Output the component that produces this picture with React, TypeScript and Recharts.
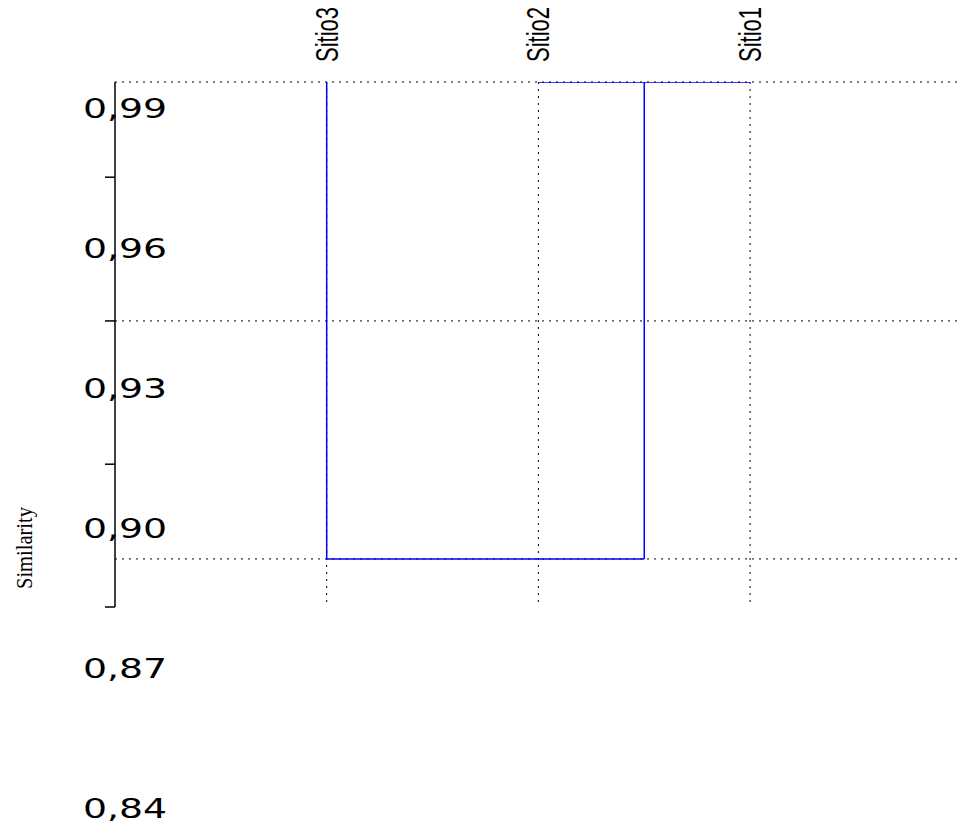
import React from "react";
import { LineChart, Line, XAxis, YAxis, ReferenceLine } from "recharts";

// Leaves of the dendrogram (left to right)
const leafNames = ["Sitio3", "Sitio2", "Sitio1"];
const leafPositions = [1, 2, 3];
const leafSimilarity = 0.996;

// Merges: child A, child B, similarity level of the join
const mergeIds = ["C1", "C2"];
const mergeChildA = ["Sitio2", "C1"];
const mergeChildB = ["Sitio1", "Sitio3"];
const mergeSimilarity = [0.996, 0.8938];

// Axis ticks
const labelTicks = [0.99, 0.96, 0.93, 0.9, 0.87, 0.84];
const markTicks = [0.9756, 0.9448, 0.9141, 0.8835];
const gridLevels = [0.996, 0.9448, 0.8938];
const simDomain = [0.8835, 0.996];
const xDomain = [0, 3.982];

type Pt = { x: number; y: number };

function buildSegments(): Pt[][] {
  const nodes: Record<string, Pt> = {};
  leafNames.forEach((n, i) => {
    nodes[n] = { x: leafPositions[i], y: leafSimilarity };
  });
  const segs: Pt[][] = [];
  mergeIds.forEach((id, i) => {
    const a = nodes[mergeChildA[i]];
    const b = nodes[mergeChildB[i]];
    const lvl = mergeSimilarity[i];
    if (a.y !== lvl) segs.push([{ x: a.x, y: a.y }, { x: a.x, y: lvl }]);
    if (b.y !== lvl) segs.push([{ x: b.x, y: b.y }, { x: b.x, y: lvl }]);
    segs.push([{ x: Math.min(a.x, b.x), y: lvl }, { x: Math.max(a.x, b.x), y: lvl }]);
    nodes[id] = { x: (a.x + b.x) / 2, y: lvl };
  });
  return segs;
}

const segments = buildSegments();

const YLabelTick = (props: any) => {
  const { y, payload } = props;
  const txt = Number(payload.value).toFixed(2).replace(".", ",");
  return (
    <text
      transform={`translate(83, ${y + 8}) scale(1.4,1)`}
      fontFamily="DejaVu Sans"
      fontSize={27}
      fill="#000"
    >
      {txt}
    </text>
  );
};

const XLabelTick = (props: any) => {
  const { x, payload } = props;
  const idx = leafPositions.indexOf(payload.value);
  const name = idx >= 0 ? leafNames[idx] : "";
  return (
    <text
      transform={`translate(${x + 11}, 62) scale(1.4,1) rotate(-90)`}
      fontFamily="Liberation Sans"
      fontSize={22}
      fill="#000"
    >
      {name}
    </text>
  );
};

const EmptyTick = () => <g />;

export default function App() {
  return (
    <div style={{ position: "absolute", left: 0, top: 0, width: 958, height: 825 }}>
      <LineChart
        width={958}
        height={825}
        margin={{ top: 0, right: 0, bottom: 218, left: 0 }}
        style={{ background: "#fff" }}
      >
        <XAxis
          type="number"
          dataKey="x"
          orientation="top"
          height={82}
          domain={xDomain}
          ticks={leafPositions}
          interval={0}
          axisLine={false}
          tickLine={false}
          tick={XLabelTick}
          allowDataOverflow
        />
        <YAxis
          yAxisId="marks"
          type="number"
          orientation="left"
          width={114}
          domain={simDomain}
          ticks={markTicks}
          interval={0}
          tickSize={10}
          tickLine={{ stroke: "#000", strokeWidth: 1.5 }}
          axisLine={{ stroke: "#000", strokeWidth: 1.5 }}
          tick={EmptyTick}
          allowDataOverflow
          label={{
            value: "Similarity",
            content: () => (
              <text
                transform="translate(32,548) scale(1.1,1) rotate(-90)"
                textAnchor="middle"
                fontFamily="Liberation Serif"
                fontSize={20.5}
                fill="#000"
              >
                Similarity
              </text>
            ),
          }}
        />
        <YAxis
          yAxisId="sim"
          type="number"
          orientation="left"
          width={1}
          domain={simDomain}
          ticks={labelTicks}
          interval={0}
          axisLine={false}
          tickLine={false}
          tick={YLabelTick}
          allowDataOverflow
        />
        {gridLevels.map((g) => (
          <ReferenceLine
            key={"h" + g}
            yAxisId="sim"
            y={g}
            stroke="#000"
            strokeWidth={1}
            strokeDasharray="2 5"
          />
        ))}
        {leafPositions.map((p) => (
          <ReferenceLine
            key={"v" + p}
            yAxisId="sim"
            x={p}
            stroke="#000"
            strokeWidth={1}
            strokeDasharray="2 5"
          />
        ))}
        {segments.map((s, i) => (
          <Line
            key={"s" + i}
            yAxisId="sim"
            data={s}
            dataKey="y"
            type="linear"
            stroke="#0000ff"
            strokeWidth={1.5}
            dot={false}
            activeDot={false}
            isAnimationActive={false}
          />
        ))}
      </LineChart>
    </div>
  );
}
